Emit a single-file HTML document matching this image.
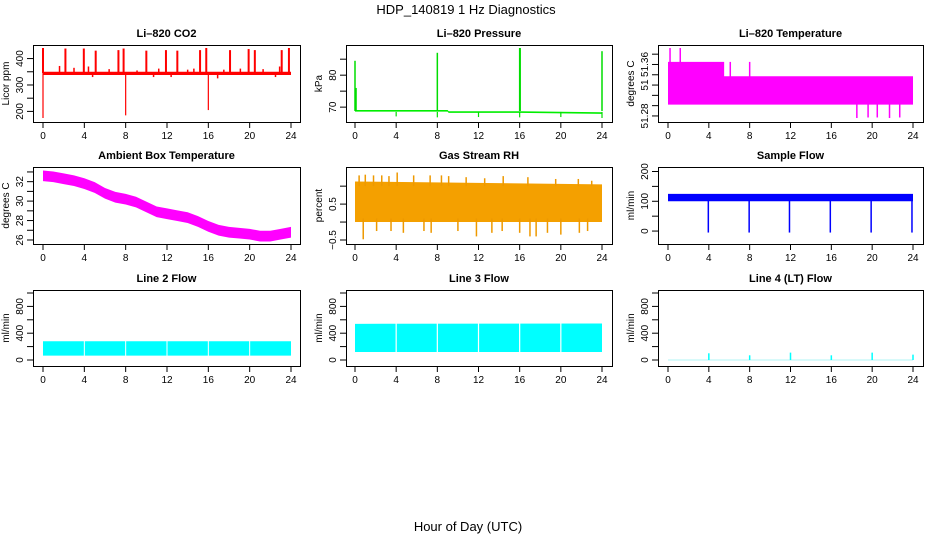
<!DOCTYPE html>
<html><head><meta charset="utf-8"><style>
body{margin:0;background:#fff}
svg{display:block;font-family:"Liberation Sans",sans-serif}
</style></head><body>
<svg id="c" width="936" height="540" viewBox="0 0 936 540">
<text x="466" y="14" text-anchor="middle" font-size="13">HDP_140819  1 Hz Diagnostics</text>
<text x="468" y="531" text-anchor="middle" font-size="13">Hour of Day (UTC)</text>
</svg>
<script>
const xTicks=[0,4,8,12,16,20,24];
// CO2
const co2Hours=[0,24];const co2Lo=[338,338];const co2Hi=[350,350];
const co2UpH=[0,2.17,3.95,5.1,7.3,7.8,10,11.9,13,15.2,15.8,18.1,19.9,20.5,23.1,23.8];
const co2UpV=[440,438,438,430,432,438,430,432,430,432,440,432,436,432,432,440];
const co2SmallH=[1.6,3,4.4,4.8,6.4,9.1,10.7,11.2,12.4,14,14.6,16.9,17.5,19.1,21.3,22.5,22.9];
const co2SmallV=[372,365,370,330,360,355,330,362,330,358,362,325,358,362,360,330,370];
const co2DnH=[0,8,16];const co2DnV=[175,185,205];
// Pressure
const prH=[0,4,9,9.1,16,24];const prLo=[68.6,68.6,68.6,68.2,68.2,67.9];const prHi=[69.1,69.1,69.1,68.7,68.7,68.4];
const prUpH=[0,0.1,8,16,16.05,24];const prUpV=[84.5,76,87,88.5,88.5,87.5];
const prDnH=[4,8,12,16,20,24];const prDnV=[67.1,66.8,66.9,66.8,66.9,66.6];
// Li-820 temperature
const ltMainH=[0,24];const ltMainLo=[51.302,51.302];const ltMainHi=[51.357,51.357];
const ltUpH=[0,5.5];const ltUpV=[51.385,51.385];
const ltSpkH=[0.2,1.2,6.1,8];const ltSpkV=[51.412,51.412,51.385,51.385];
const ltDnH=[18.5,19.6,20.5,21.7,22.7];const ltDnV=[51.276,51.277,51.277,51.276,51.277];
// Ambient
const abH=[0,1,2,3,4,5,6,7,8,9,10,11,12,13,14,15,16,17,18,19,20,21,22,23,24];
const abV=[32.6,32.5,32.3,32.1,31.8,31.4,30.8,30.4,30.2,29.9,29.4,28.9,28.7,28.5,28.3,27.9,27.4,27.0,26.8,26.7,26.6,26.4,26.4,26.6,26.8];
// RH
const rhH=[0,24];const rhLo=[0.0,0.0];const rhHi=[1.13,1.05];
const rhUpH=[0.4,1,1.8,2.6,3.3,4.1,5.7,7.3,8.4,9.1,10.8,12.6,14.4,16.8,19.5,21.7,23];
const rhUpV=[1.3,1.32,1.3,1.3,1.28,1.38,1.3,1.3,1.3,1.28,1.25,1.22,1.28,1.25,1.2,1.2,1.15];
const rhDnH=[0.8,2.1,3.5,4.7,6.7,7.4,10,11.8,13.3,14.3,16,17,17.6,18.7,20,21.8,22.6];
const rhDnV=[-0.48,-0.25,-0.25,-0.3,-0.25,-0.3,-0.25,-0.4,-0.3,-0.25,-0.3,-0.4,-0.4,-0.3,-0.35,-0.3,-0.25];
// Sample flow
const sfH=[0,24];const sfLo=[100,100];const sfHi=[125,125];
const sfDnH=[3.95,7.95,11.9,15.9,19.9,23.9];const sfDnV=[-5,-5,-5,-5,-5,-5];
// Line 2/3/4
const l2H=[0,24];const l2Lo=[65,65];const l2Hi=[280,280];
const l3H=[0,24];const l3Lo=[120,120];const l3Hi=[540,545];
const gapsH=[4,8,12,16,20];
const l4H=[4,8,12,16,20,24];const l4V=[100,70,110,70,110,80];

const svg=document.getElementById('c');const NS='http://www.w3.org/2000/svg';
function mk(tag,attrs,parent){const e=document.createElementNS(NS,tag);for(const k in attrs)e.setAttribute(k,attrs[k]);(parent||svg).appendChild(e);return e;}
const cols=[{bx0:33,bx1:300,d0:43,d1:291},{bx0:346,bx1:612,d0:355,d1:602},{bx0:658,bx1:923,d0:668,d1:913}];
const rows=[{by0:45,by1:122},{by0:167,by1:244},{by0:290,by1:366}];
function panel(ci,ri,title,ylab,ymin,ymax,ticks,labels,name){
  const c=cols[ci],r=rows[ri];
  const g=mk('g',{});
  
  
  const py0=r.by1-4,py1=r.by0+3;
  const X=h=>c.d0+(h/24)*(c.d1-c.d0);
  const Y=v=>py0+(v-ymin)/(ymax-ymin)*(py1-py0);
  const t=mk('text',{x:(c.bx0+c.bx1)/2,y:r.by0-8,'text-anchor':'middle','font-size':'11','font-weight':'bold'},g);t.textContent=title;
  
  const yl=mk('text',{x:c.bx0-24,y:(r.by0+r.by1)/2,'text-anchor':'middle','font-size':'10',transform:`rotate(-90 ${c.bx0-24} ${(r.by0+r.by1)/2})`},g);yl.textContent=ylab;
  
  const data=mk('g',{},g);
  
  const ax=mk('g',{stroke:'#000','stroke-width':1},g);
  
  mk('rect',{x:c.bx0+.5,y:r.by0+.5,width:c.bx1-c.bx0,height:r.by1-r.by0,fill:'none'},ax);
  xTicks.forEach(h=>{mk('line',{x1:X(h),x2:X(h),y1:r.by1,y2:r.by1+6},ax);
    const tx=mk('text',{x:X(h),y:r.by1+17,'text-anchor':'middle','font-size':'10',stroke:'none',fill:'#000'},ax);tx.textContent=h;});
  ticks.forEach((v,i)=>{const y=Y(v);mk('line',{x1:c.bx0-6,x2:c.bx0,y1:y,y2:y},ax);
    if(labels[i]){const tx=mk('text',{x:c.bx0-10,y:y,'text-anchor':'middle','font-size':'10',stroke:'none',fill:'#000',transform:`rotate(-90 ${c.bx0-10} ${y})`},ax);tx.textContent=labels[i];}});
  return {X,Y,g:data};
}
function band(p,H,lo,hi,col){let pts=[];H.forEach((h,i)=>pts.push(p.X(h)+','+p.Y(hi[i])));for(let i=H.length-1;i>=0;i--)pts.push(p.X(H[i])+','+p.Y(lo[i]));
  const e=mk('polygon',{points:pts.join(' '),fill:col},p.g);}
function spikes(p,H,V,base,col,w){H.forEach((h,i)=>{const e=mk('line',{x1:p.X(h),x2:p.X(h),y1:p.Y(base),y2:p.Y(V[i]),stroke:col,'stroke-width':w||1.5},p.g);
  });}

let p=panel(0,0,'Li\u2013820 CO2','Licor ppm',175,440,[200,250,300,350,400],['200','','300','','400'],'co2');
band(p,co2Hours,co2Lo,co2Hi,'#ff0000');spikes(p,co2UpH,co2UpV,345,'#ff0000',2);spikes(p,co2SmallH,co2SmallV,345,'#ff0000',1.5);spikes(p,co2DnH,co2DnV,345,'#ff0000',1.2);

p=panel(1,0,'Li\u2013820 Pressure','kPa',66.6,88.5,[70,75,80,85],['70','','80',''],'pressure');
band(p,prH,prLo,prHi,'#00ee00');spikes(p,prUpH,prUpV,68.8,'#00dd00',1.5);spikes(p,prDnH,prDnV,68.5,'#00dd00',1.2);

p=panel(2,0,'Li\u2013820 Temperature','degrees C',51.276,51.412,[51.28,51.30,51.32,51.34,51.36,51.38,51.40],['51.28','','','51','','51.36',''],'li820-temperature');
band(p,ltMainH,ltMainLo,ltMainHi,'#ff00ff');band(p,[0,5.5],[51.33,51.33],ltUpV,'#ff00ff');spikes(p,ltSpkH,ltSpkV,51.33,'#ff00ff',1.5);spikes(p,ltDnH,ltDnV,51.31,'#ff00ff',1.5);

p=panel(0,1,'Ambient Box Temperature','degrees C',26,33.2,[26,27,28,29,30,31,32,33],['26','','28','','30','','32',''],'ambient');
band(p,abH,abV.map(v=>v-0.55),abV.map(v=>v+0.55),'#ff00ff');

p=panel(1,1,'Gas Stream RH','percent',-0.5,1.45,[-0.5,0,0.5,1.0],['\u22120.5','','0.5',''],'rh');
band(p,rhH,rhLo,rhHi,'#f4a000');spikes(p,rhUpH,rhUpV,1.0,'#ee9900',1.5);spikes(p,rhDnH,rhDnV,0.1,'#ee9900',1.5);

p=panel(2,1,'Sample Flow','ml/min',-30,205,[0,50,100,150,200],['0','','100','','200'],'sample-flow');
band(p,sfH,sfLo,sfHi,'#0000ff');spikes(p,sfDnH,sfDnV,110,'#0000ff',1.5);

p=panel(0,2,'Line 2 Flow','ml/min',-30,1000,[0,200,400,600,800,1000],['0','','400','','800',''],'line2-flow');
band(p,l2H,l2Lo,l2Hi,'#00ffff');spikes(p,gapsH,gapsH.map(()=>290),60,'#ffffff',1);

p=panel(1,2,'Line 3 Flow','ml/min',-30,1000,[0,200,400,600,800,1000],['0','','400','','800',''],'line3-flow');
band(p,l3H,l3Lo,l3Hi,'#00ffff');spikes(p,gapsH,gapsH.map(()=>550),110,'#ffffff',1.2);

p=panel(2,2,'Line 4 (LT) Flow','ml/min',-30,1000,[0,200,400,600,800,1000],['0','','400','','800',''],'line4-flow');
band(p,[0,24],[-3,-3],[3,3],'#66eeee');spikes(p,l4H,l4V,0,'#00ffff',1.5);
</script>
</body></html>
